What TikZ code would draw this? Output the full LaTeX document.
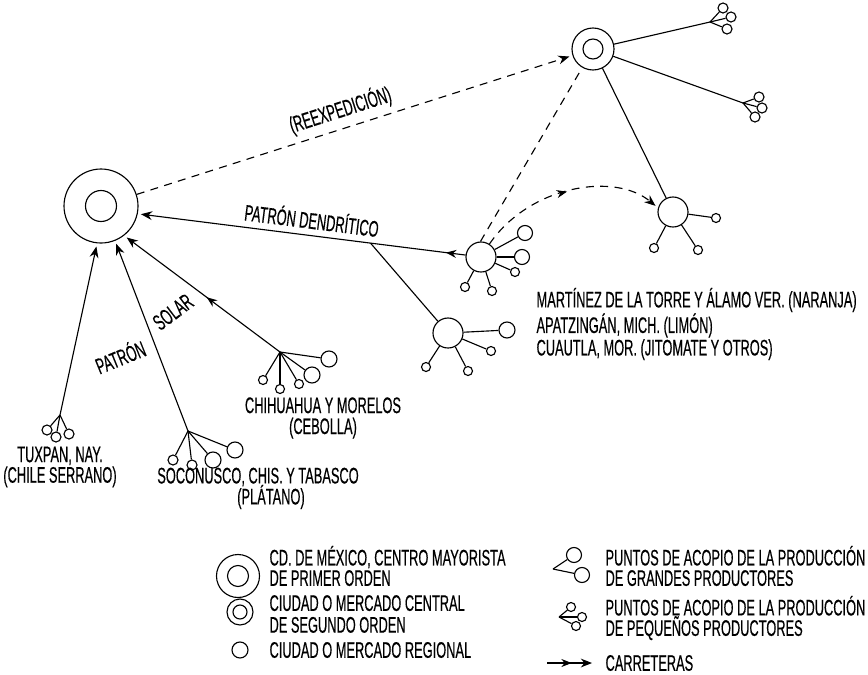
\documentclass[tikz,border=0pt]{standalone}
\usepackage{fontspec}
\setmainfont{Liberation Sans}[FakeStretch=0.57, FakeBold=0.4]
\usetikzlibrary{arrows.meta,decorations.markings}

\tikzset{
  mercado/.style={circle, draw, inner sep=0pt, minimum size=#1*0.5mm},
  acopio/.style={circle, draw, inner sep=0pt, minimum size=#1*0.5mm},
  flecha/.style={-{Stealth[length=2.8mm,width=2.2mm]}, shorten >=0.8mm},
  marca/.style={postaction={decorate},
    decoration={markings, mark=at position #1 with {\arrow{Stealth[length=2.6mm,width=2mm]}}}},
  reexp/.style={dash pattern=on 2mm off 1.6mm},
  rotulo/.style={font=\fontsize{16}{#1}\selectfont, inner sep=0pt},
  rotulo/.default=16,
}

\begin{document}
\begin{tikzpicture}[x=0.25mm, y=-0.25mm, line width=0.8pt]

    % Picture frame (pixel units, y grows downwards)
    \fill[white] (0,0) rectangle (868,674);
    \useasboundingbox (0,0) rectangle (868,674);

    % Wholesale centre of first order
    \node[mercado=37] (cdmx) at (101,206) {};
    \node[mercado=15.5] (cdmxin) at (101,206) {};

    % Central market of second order
    \node[mercado=21] (seg) at (593,49) {};
    \node[mercado=10] (segin) at (593,49) {};

    % Regional markets
    \node[mercado=15] (mart) at (481,257) {};
    \node[mercado=15] (cua) at (448,333) {};
    \node[mercado=15] (reg) at (673,212) {};

    % Collection points around the regional markets
    \foreach \cx/\cy/\r [count=\i] in {525/233/7.5, 522/257/7.5, 515/272/4.5, 465/287/4.5, 492/291/4.5}{
      \node[acopio=\r] (mart\i) at (\cx,\cy) {};
      \draw (mart) -- (mart\i);
    }
    \foreach \cx/\cy/\r [count=\i] in {507/330/8, 491/351/4.5, 426/367/4.5, 468/371/4.5}{
      \node[acopio=\r] (cua\i) at (\cx,\cy) {};
      \draw (cua) -- (cua\i);
    }
    \foreach \cx/\cy/\r [count=\i] in {716/218/4.5, 654/248/4.5, 698/250/4.5}{
      \node[acopio=\r] (reg\i) at (\cx,\cy) {};
      \draw (reg) -- (reg\i);
    }

    % Small producers served from the second order market
    \coordinate (segj1) at (710,22);
    \coordinate (segj2) at (743,103);
    \draw (seg) -- (segj1);
    \draw (seg) -- (segj2);
    \draw (seg) -- (reg);
    \foreach \cx/\cy [count=\i] in {723/8, 731/17, 727/29}{
      \node[acopio=5] (sega\i) at (\cx,\cy) {};
      \draw (segj1) -- (sega\i);
    }
    \foreach \cx/\cy [count=\i] in {759/97, 762/108, 755/117}{
      \node[acopio=5] (segb\i) at (\cx,\cy) {};
      \draw (segj2) -- (segb\i);
    }

    % Solar pattern: producing zones joined straight to the centre
    \coordinate (tuxj) at (60,415);
    \coordinate (socj) at (188,431);
    \coordinate (chij) at (280,352);
    \foreach \cx/\cy [count=\i] in {47/430, 56/437, 69/434}{
      \node[acopio=5] (tux\i) at (\cx,\cy) {};
      \draw (tuxj) -- (tux\i);
    }
    \foreach \cx/\cy/\r [count=\i] in {173/460/5, 192/465/5, 213/460/8, 235/450/8}{
      \node[acopio=\r] (soc\i) at (\cx,\cy) {};
      \draw (socj) -- (soc\i);
    }
    \foreach \cx/\cy/\r [count=\i] in {263/380/4.5, 280/389/4.5, 299/384/4.5, 312/375/8, 329/359/8}{
      \node[acopio=\r] (chi\i) at (\cx,\cy) {};
      \draw (chij) -- (chi\i);
    }
    \draw[flecha] (tuxj) -- (cdmx.-96);
    \draw[flecha] (socj) -- (cdmx.-68);
    \draw[flecha, marca=0.47] (chij) -- (cdmx.-52);

    % Dendritic pattern
    \draw[flecha, marca=0.06] (mart) -- (cdmx.-12)
      coordinate[pos=0.29] (enlace)
      node[rotulo, sloped, above=1.5mm, pos=0.475] (dendr) {PATRÓN DENDRÍTICO};
    \draw (enlace) -- (cua);

    % Re-dispatch (dashed)
    \draw[reexp, flecha] (cdmx.18) -- (seg)
      node[rotulo, sloped, above=1.5mm, pos=0.48] (reex) {(REEXPEDICIÓN)};
    \draw[reexp] (mart.92) -- (seg.-120);
    \draw[reexp, flecha, marca=0.5] (mart.57) .. controls (530,185) and (615,172) .. (reg.165);

    % Place names
    \node[rotulo, anchor=west, align=left] (marttexto) at (536,324)
      {MARTÍNEZ DE LA TORRE Y ÁLAMO VER. (NARANJA)\\APATZINGÁN, MICH. (LIMÓN)\\CUAUTLA, MOR. (JITOMATE Y OTROS)};
    \node[rotulo=13, align=center] (tuxtexto) at (60,467) {TUXPAN, NAY.\\(CHILE SERRANO)};
    \node[rotulo] (soctexto) at (258,477) {SOCONUSCO, CHIS. Y TABASCO};
    \node[rotulo] (platexto) at (271,497) {(PLÁTANO)};
    \node[rotulo=14.9, align=center] (chitexto) at (323,418) {CHIHUAHUA Y MORELOS\\(CEBOLLA)};
    \node[rotulo, rotate=22] (patron) at (120,356) {PATRÓN};
    \node[rotulo, rotate=37] (solar) at (173,312) {SOLAR};

    % Legend, left column
    \node[mercado=21.5] (ley1) at (238,576) {};
    \node[mercado=10.5] (ley1in) at (238,576) {};
    \node[rotulo=14.5, anchor=west, align=left] (ley1texto) at (269,566)
      {CD. DE MÉXICO, CENTRO MAYORISTA\\DE PRIMER ORDEN};
    \node[mercado=13] (ley2) at (240,612) {};
    \node[mercado=7] (ley2in) at (240,612) {};
    \node[rotulo=15.5, anchor=west, align=left] (ley2texto) at (269,614)
      {CIUDAD O MERCADO CENTRAL\\DE SEGUNDO ORDEN};
    \node[mercado=8] (ley3) at (240,650) {};
    \node[rotulo, anchor=west] (ley3texto) at (269,650) {CIUDAD O MERCADO REGIONAL};

    % Legend, right column
    \coordinate (ley4j) at (553,569);
    \foreach \cx/\cy [count=\i] in {574/555, 582/575}{
      \node[acopio=7.5] (ley4\i) at (\cx,\cy) {};
      \draw (ley4j) -- (ley4\i);
    }
    \node[rotulo=14.5, anchor=west, align=left] (ley4texto) at (605,566)
      {PUNTOS DE ACOPIO DE LA PRODUCCIÓN\\DE GRANDES PRODUCTORES};
    \coordinate (ley5j) at (559,617);
    \foreach \cx/\cy [count=\i] in {571/607, 582/617, 576/626}{
      \node[acopio=4.5] (ley5\i) at (\cx,\cy) {};
      \draw (ley5j) -- (ley5\i);
    }
    \node[rotulo=14.5, anchor=west, align=left] (ley5texto) at (605,618)
      {PUNTOS DE ACOPIO DE LA PRODUCCIÓN\\DE PEQUEÑOS PRODUCTORES};
    \coordinate (carr1) at (547,663);
    \coordinate (carr2) at (592,663);
    \draw[flecha, marca=0.55, shorten >=0pt] (carr1) -- (carr2);
    \node[rotulo, anchor=west] (carrtexto) at (605,663) {CARRETERAS};

\end{tikzpicture}
\end{document}
